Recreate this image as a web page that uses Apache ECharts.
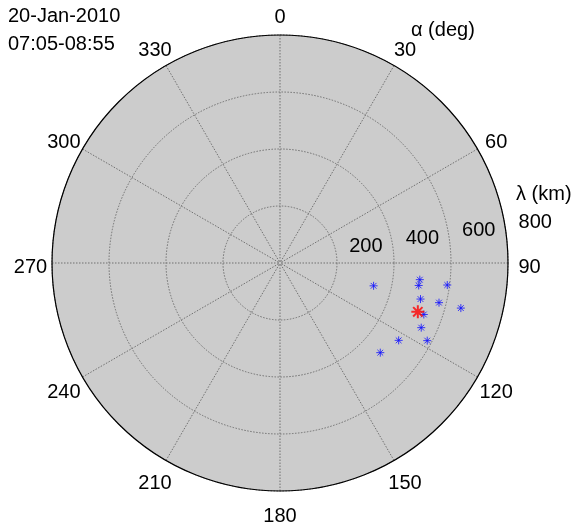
<!DOCTYPE html>
<html>
<head>
<meta charset="utf-8">
<script src="https://cdn.jsdelivr.net/npm/echarts@6/dist/echarts.min.js"></script>
<style>
  html, body { margin: 0; padding: 0; background: #fff; }
  #chart { width: 576px; height: 530px; }
</style>
</head>
<body>
<div id="chart"></div>
<script>
// blue asterisks: lambda (km) and alpha (deg)
const lambdaKm = [338, 494, 493, 509, 592, 575, 654, 536, 545, 497, 584, 472]
const alphaDeg = [103.7, 96.8, 99.2, 104.4, 97.5, 104.0, 104.0, 109.7, 114.6, 123.1, 117.8, 131.8]
// red asterisk (mean position)
const meanLambda = [513]
const meanAlpha = [109.5]

const angleTicks = [0, 30, 60, 90, 120, 150, 180, 210, 240, 270, 300, 330]
const radiusTicks = [200, 400, 600, 800]

const FONT = 'Liberation Sans, Arial, sans-serif'
const STAR = 'path://M0,-5L0,5M-5,0L5,0M-3.6,-3.6L3.6,3.6M-3.6,3.6L3.6,-3.6'

const chart = echarts.init(document.getElementById('chart'))

const dotted = { color: '#707070', width: 1, type: [1.5, 1.5] }

const option = {
  animation: false,
  textStyle: { fontFamily: FONT },
  polar: [
    { center: [280, 263], radius: 228 },
    { center: [280, 263], radius: 228 }
  ],
  angleAxis: [
    {
      polarIndex: 0,
      type: 'value',
      min: 0,
      max: 360,
      interval: 30,
      startAngle: 90,
      clockwise: true,
      z: 2,
      axisLine: { show: true, lineStyle: { color: '#000', width: 1.2 } },
      axisTick: { show: false },
      axisLabel: {
        margin: 21,
        color: '#000',
        fontSize: 20,
        fontFamily: FONT,
        // tiny box so each label is centred on its anchor point
        formatter: (v) => (angleTicks.includes(v) ? '{c|' + v + '}' : ''),
        rich: { c: { width: 1, height: 1, lineHeight: 1, padding: [8, 0, 0, 0], align: 'center', fontSize: 20, color: '#000' } }
      },
      splitLine: { show: true, lineStyle: dotted }
    },
    {
      polarIndex: 1,
      type: 'value',
      min: 0,
      max: 360,
      startAngle: 8,
      show: false
    }
  ],
  radiusAxis: [
    {
      polarIndex: 0,
      type: 'value',
      min: 0,
      max: 800,
      interval: 200,
      z: 2,
      axisLine: { show: false },
      axisTick: { show: false },
      axisLabel: { show: false },
      splitLine: { show: true, lineStyle: dotted }
    },
    {
      polarIndex: 1,
      type: 'value',
      min: 0,
      max: 800,
      interval: 200,
      z: 1,
      axisLine: { show: false },
      axisTick: { show: false },
      splitLine: { show: false },
      splitArea: { show: true, areaStyle: { color: ['#cccccc'] } },
      axisLabel: {
        showMinLabel: false,
        align: 'left',
        verticalAlign: 'middle',
        margin: 9,
        padding: [0, 0, 0, 14],
        color: '#000',
        fontSize: 20,
        fontFamily: FONT,
        formatter: (v) => (radiusTicks.includes(v) ? String(v) : '')
      }
    }
  ],
  graphic: [
    { type: 'text', left: 8, top: 6, style: { text: '20-Jan-2010', font: '20px ' + FONT, fill: '#000' } },
    { type: 'text', left: 8, top: 34, style: { text: '07:05-08:55', font: '20px ' + FONT, fill: '#000' } },
    { type: 'text', left: 411, top: 20, style: { text: 'α (deg)', font: '20px ' + FONT, fill: '#000' } },
    { type: 'text', left: 516, top: 184, style: { text: 'λ (km)', font: '20px ' + FONT, fill: '#000' } }
  ],
  series: [
    {
      type: 'scatter',
      coordinateSystem: 'polar',
      polarIndex: 0,
      symbol: STAR,
      symbolSize: 8,
      itemStyle: { color: 'none', borderColor: '#1010ff', borderWidth: 1 },
      data: lambdaKm.map((r, i) => [r, alphaDeg[i]]),
      z: 3
    },
    {
      type: 'scatter',
      coordinateSystem: 'polar',
      polarIndex: 0,
      symbol: STAR,
      symbolSize: 13,
      itemStyle: { color: 'none', borderColor: '#ff0000', borderWidth: 2 },
      data: meanLambda.map((r, i) => [r, meanAlpha[i]]),
      z: 4
    }
  ]
}

chart.setOption(option)
window.addEventListener('resize', () => chart.resize())
</script>
</body>
</html>
